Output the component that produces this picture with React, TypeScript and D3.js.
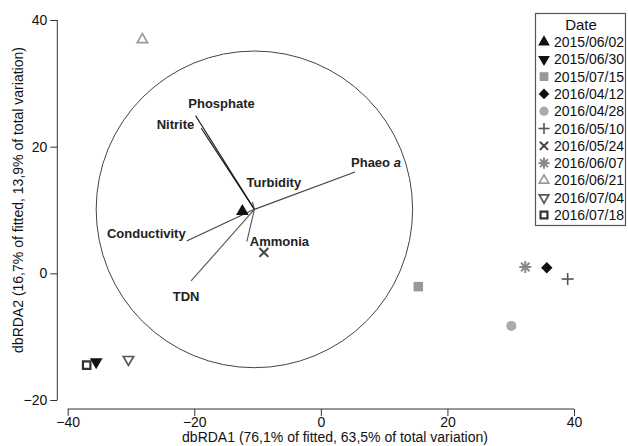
import React, { useEffect, useRef } from 'react';
import * as d3 from 'd3';

// sample dates and their dbRDA coordinates
const dates = ['2015/06/02', '2015/06/30', '2015/07/15', '2016/04/12', '2016/04/28', '2016/05/10',
  '2016/05/24', '2016/06/07', '2016/06/21', '2016/07/04', '2016/07/18'];
const dbRDA1 = [-12.4, -35.5, 15.4, 35.7, 30.1, 39.0, -9.0, 32.3, -28.2, -30.4, -37.0];
const dbRDA2 = [9.8, -14.0, -2.1, 0.9, -8.3, -0.9, 3.3, 1.0, 36.9, -13.6, -14.5];

// environmental vectors (endpoints, axis units), drawn from a common origin
const vectorNames = ['Phosphate', 'Nitrite', 'Turbidity', 'Phaeo', 'Conductivity', 'Ammonia', 'TDN'];
const vectorX = [-19.8, -18.9, -10.8, 5.4, -21.2, -11.7, -20.5];
const vectorY = [24.9, 22.9, 11.3, 16.0, 5.1, 5.0, -1.2];
const vectorOrigin = [-10.5, 10.1];
const circleRadius = 25;

const xTicks = [-40, -20, 0, 20, 40];
const yTicks = [-20, 0, 20, 40];

// marker style per date: shape, fill colour, stroke colour
const markerShape = ['tri', 'tridown', 'square', 'diamond', 'circle', 'plus', 'cross', 'star', 'tri', 'tridown', 'square'];
const markerFill = ['#111', '#111', '#999', '#111', '#aaa', 'none', 'none', 'none', 'none', 'none', 'none'];
const markerStroke = ['none', 'none', 'none', 'none', 'none', '#555', '#444', '#888', '#999', '#555', '#333'];

// label placement relative to vector tip (px)
const labelPos: Record<string, [number, number, string]> = {
  Phosphate: [26, -8, 'middle'],
  Nitrite: [-7, 1, 'end'],
  Turbidity: [-6, -15, 'start'],
  Phaeo: [-4, -5, 'start'],
  Conductivity: [-1, -3, 'end'],
  Ammonia: [3, 4, 'start'],
  TDN: [-5, 20, 'middle'],
};
const vectorColor = ['#222', '#111', '#555', '#444', '#444', '#555', '#555'];

function drawMarker(g, shape, x, y, fill, stroke, s = 1) {
  const sym = d3.symbol();
  if (shape === 'tri' || shape === 'tridown') {
    const open = fill === 'none';
    g.append('path')
      .attr('d', sym.type(d3.symbolTriangle).size((open ? 46 : 70) * s)())
      .attr('transform', `translate(${x},${y}) rotate(${shape === 'tridown' ? 180 : 0})`)
      .attr('fill', fill).attr('stroke', stroke).attr('stroke-width', 1.7);
  } else if (shape === 'square') {
    const open = fill === 'none';
    g.append('path')
      .attr('d', sym.type(d3.symbolSquare).size((open ? 56 : 90) * s)())
      .attr('transform', `translate(${x},${y})`)
      .attr('fill', fill).attr('stroke', stroke).attr('stroke-width', 2.2);
  } else if (shape === 'diamond') {
    g.append('path')
      .attr('d', sym.type(d3.symbolSquare).size(66 * s)())
      .attr('transform', `translate(${x},${y}) rotate(45)`)
      .attr('fill', fill);
  } else if (shape === 'circle') {
    g.append('circle').attr('cx', x).attr('cy', y).attr('r', 5 * Math.sqrt(s)).attr('fill', fill);
  } else {
    const r = 6 * Math.sqrt(s);
    const angles = shape === 'plus' ? [0, 90] : shape === 'cross' ? [45, 135] : [0, 90, 45, 135];
    const rr = shape === 'cross' ? r * 1.05 : r;
    angles.forEach(a => {
      const t = (a * Math.PI) / 180;
      g.append('line')
        .attr('x1', x - rr * Math.cos(t)).attr('y1', y - rr * Math.sin(t))
        .attr('x2', x + rr * Math.cos(t)).attr('y2', y + rr * Math.sin(t))
        .attr('stroke', stroke).attr('stroke-width', shape === 'plus' ? 1.6 : 2);
    });
  }
}

function Ordination({ width, height }) {
  const ref = useRef(null);
  useEffect(() => {
    const svg = d3.select(ref.current);
    svg.selectAll('*').remove();
    const font = 'Liberation Sans, Arial, sans-serif';

    const x = d3.scaleLinear().domain([-40, 40]).range([67.7, 574]);
    const y = d3.scaleLinear().domain([-20, 40]).range([400, 20]);

    // y axis (detached, R base style)
    const yAxis = svg.append('g').attr('transform', 'translate(57.3,0)')
      .call(d3.axisLeft(y).tickValues(yTicks).tickSize(7).tickPadding(3).tickFormat(d3.format('d')));
    yAxis.select('.domain').attr('d', `M0,${y(-20)}V${y(40)}`).attr('stroke', '#333');
    yAxis.selectAll('line').attr('stroke', '#333');
    yAxis.selectAll('text').attr('font-size', 14).attr('font-family', font).attr('fill', '#111');

    const xAxis = svg.append('g').attr('transform', 'translate(0,409)')
      .call(d3.axisBottom(x).tickValues(xTicks).tickSize(7).tickPadding(1).tickFormat(d3.format('d')));
    xAxis.select('.domain').attr('d', `M${x(-40)},0H${x(40)}`).attr('stroke', '#333');
    xAxis.selectAll('line').attr('stroke', '#333');
    xAxis.selectAll('text').attr('font-size', 14).attr('font-family', font).attr('fill', '#111');

    svg.append('text').attr('x', 335).attr('y', 442).attr('text-anchor', 'middle')
      .attr('font-size', 14).attr('font-family', font).attr('fill', '#111')
      .text('dbRDA1 (76,1% of fitted, 63,5% of total variation)');
    svg.append('text').attr('transform', 'translate(23,200) rotate(-90)').attr('text-anchor', 'middle')
      .attr('font-size', 14).attr('font-family', font).attr('fill', '#111')
      .text('dbRDA2 (16,7% of fitted, 13,9% of total variation)');

    // correlation circle
    const ox = x(vectorOrigin[0]), oy = y(vectorOrigin[1]);
    svg.append('ellipse').attr('cx', ox).attr('cy', oy)
      .attr('rx', x(vectorOrigin[0] + circleRadius) - ox).attr('ry', oy - y(vectorOrigin[1] + circleRadius))
      .attr('fill', 'none').attr('stroke', '#444').attr('stroke-width', 1);

    // vectors
    vectorNames.forEach((name, i) => {
      const ex = x(vectorX[i]), ey = y(vectorY[i]);
      svg.append('line').attr('x1', ox).attr('y1', oy).attr('x2', ex).attr('y2', ey)
        .attr('stroke', vectorColor[i]).attr('stroke-width', 1.1);
      const [dx, dy, anchor] = labelPos[name];
      const t = svg.append('text').attr('x', ex + dx).attr('y', ey + dy).attr('text-anchor', anchor)
        .attr('font-size', 13).attr('font-weight', 'bold').attr('font-family', font).attr('fill', '#222');
      if (name === 'Phaeo') {
        t.append('tspan').text('Phaeo ');
        t.append('tspan').attr('font-style', 'italic').text('a');
      } else t.text(name);
    });

    // sample points
    const pts = svg.append('g');
    dates.forEach((d, i) => {
      drawMarker(pts, markerShape[i], x(dbRDA1[i]), y(dbRDA2[i]), markerFill[i], markerStroke[i]);
    });

    // legend
    const lg = svg.append('g');
    lg.append('rect').attr('x', 535.5).attr('y', 13.5).attr('width', 90).attr('height', 212)
      .attr('fill', '#fff').attr('stroke', '#555').attr('stroke-width', 1.2);
    lg.append('text').attr('x', 581).attr('y', 30).attr('text-anchor', 'middle')
      .attr('font-size', 15).attr('font-family', font).attr('fill', '#111').text('Date');
    dates.forEach((d, i) => {
      const ly = 42 + i * 17.3;
      drawMarker(lg, markerShape[i], 544, ly, markerFill[i], markerStroke[i], 0.85);
      lg.append('text').attr('x', 554).attr('y', ly + 5).attr('font-size', 14)
        .attr('font-family', font).attr('fill', '#111').text(d);
    });
  }, [width, height]);

  return <svg ref={ref} width={width} height={height} style={{ display: 'block' }} />;
}

export default function App() {
  return (
    <div style={{ position: 'absolute', left: 0, top: 0, background: '#fff' }}>
      <Ordination width={628} height={446} />
    </div>
  );
}
